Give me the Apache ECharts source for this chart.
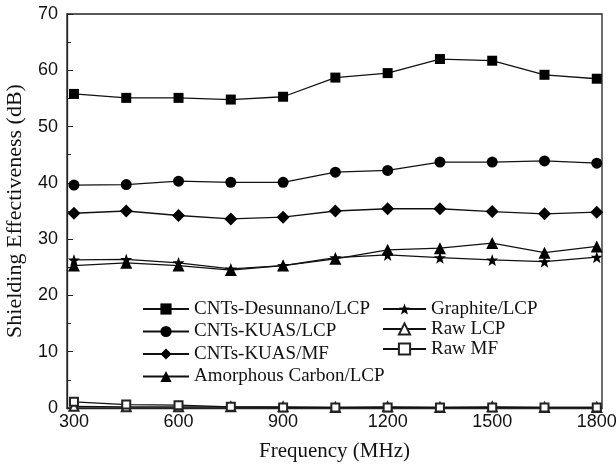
<!DOCTYPE html>
<html lang="en">
<head>
  <meta charset="UTF-8">
  <title>Shielding Effectiveness</title>
  <style>
    html, body { margin: 0; padding: 0; background: #fff; }
  </style>
</head>
<body>
  <div id="main" style="width: 616px; height: 464px"></div>
  <script src="https://cdn.jsdelivr.net/npm/echarts@6/dist/echarts.min.js"></script>
  <script>
    // frequencies (MHz)
    const freq = [300, 450, 600, 750, 900, 1050, 1200, 1350, 1500, 1650, 1800];
    const xTicks = [300, 600, 900, 1200, 1500, 1800];

    const desunnanoLCP = [55.8, 55.1, 55.1, 54.8, 55.3, 58.7, 59.5, 62.0, 61.7, 59.2, 58.5];
    const kuasLCP = [39.6, 39.7, 40.3, 40.1, 40.1, 41.9, 42.2, 43.7, 43.7, 43.9, 43.5];
    const kuasMF = [34.6, 35.0, 34.2, 33.6, 33.9, 35.0, 35.4, 35.4, 34.9, 34.5, 34.8];
    const amorphousLCP = [25.3, 25.8, 25.3, 24.5, 25.3, 26.5, 28.1, 28.4, 29.3, 27.6, 28.7];
    const graphiteLCP = [26.3, 26.4, 25.8, 24.7, 25.3, 26.7, 27.2, 26.7, 26.3, 26.0, 26.8];
    const rawLCP = [0.3, 0.2, 0.2, 0.2, 0.2, 0.1, 0.2, 0.1, 0.2, 0.1, 0.1];
    const rawMF = [1.1, 0.6, 0.5, 0.2, 0.1, 0.1, 0.1, 0.1, 0.1, 0.1, 0.1];

    const starPath = 'path://M0,-10L2.35,-3.24L9.51,-3.09L3.8,1.24L5.88,8.09L0,4.2L-5.88,8.09L-3.8,1.24L-9.51,-3.09L-2.35,-3.24Z';

    function pairs(vals) {
      return freq.map((f, i) => [f, vals[i]]);
    }

    function mkSeries(name, vals, symbol, size, filled) {
      return {
        name: name,
        type: 'line',
        data: pairs(vals),
        symbol: symbol,
        symbolSize: size,
        showAllSymbol: true,
        lineStyle: { color: '#111', width: 1.3 },
        itemStyle: filled
          ? { color: '#000', borderColor: '#000', borderWidth: 0 }
          : { color: '#222', borderColor: '#222', borderWidth: 1 },
        emphasis: { disabled: true },
        z: 3
      };
    }

    const serif = 'Liberation Serif';
    const sans = 'Liberation Sans';

    let myChart = echarts.init(document.getElementById('main'));
    let option = {
      animation: false,
      backgroundColor: '#fff',
      grid: {
        left: 67, right: 14, top: 14, bottom: 56,
        outerBoundsMode: 'none',
        show: true, borderColor: '#222', borderWidth: 1.3
      },
      legend: [
        {
          data: ['CNTs-Desunnano/LCP', 'CNTs-KUAS/LCP', 'CNTs-KUAS/MF', 'Amorphous Carbon/LCP'],
          orient: 'vertical',
          left: 137, top: 294,
          itemWidth: 46, itemHeight: 14, itemGap: 2.5,
          textStyle: { fontFamily: serif, fontSize: 19, color: '#111', lineHeight: 20 }
        },
        {
          data: ['Graphite/LCP', 'Raw LCP', 'Raw MF'],
          orient: 'vertical',
          left: 377, top: 294,
          itemWidth: 43, itemHeight: 14, itemGap: 0,
          textStyle: { fontFamily: serif, fontSize: 19, color: '#111', lineHeight: 20 }
        }
      ],
      xAxis: {
        type: 'value',
        min: 280, max: 1815,
        name: 'Frequency (MHz)',
        nameLocation: 'middle',
        nameGap: 33,
        nameTextStyle: { fontFamily: serif, fontSize: 21, color: '#111' },
        axisLine: { lineStyle: { color: '#222', width: 1.3 } },
        axisTick: { inside: true, length: 5, customValues: xTicks, lineStyle: { color: '#222' } },
        axisLabel: {
          customValues: xTicks, formatter: (v) => String(v),
          fontFamily: sans, fontSize: 18, color: '#111', margin: 5
        },
        splitLine: { show: false }
      },
      yAxis: {
        type: 'value',
        min: 0, max: 70, interval: 10,
        name: 'Shielding Effectiveness (dB)',
        nameLocation: 'middle',
        nameGap: 41,
        nameTextStyle: { fontFamily: serif, fontSize: 22, color: '#111' },
        axisLine: { show: true, lineStyle: { color: '#222', width: 1.3 } },
        axisTick: { inside: true, length: 6, lineStyle: { color: '#222' } },
        minorTick: { show: true, splitNumber: 2, length: 4, lineStyle: { color: '#222' } },
        axisLabel: { fontFamily: sans, fontSize: 18, color: '#111', margin: 9 },
        splitLine: { show: false }
      },
      series: [
        mkSeries('CNTs-Desunnano/LCP', desunnanoLCP, 'rect', 10, true),
        mkSeries('CNTs-KUAS/LCP', kuasLCP, 'circle', 11, true),
        mkSeries('CNTs-KUAS/MF', kuasMF, 'diamond', 13, true),
        mkSeries('Amorphous Carbon/LCP', amorphousLCP, 'triangle', 12, true),
        mkSeries('Graphite/LCP', graphiteLCP, starPath, 12, true),
        mkSeries('Raw LCP', rawLCP, 'emptyTriangle', 9, false),
        mkSeries('Raw MF', rawMF, 'emptyRect', 8, false)
      ]
    };
    myChart.setOption(option);
  </script>
</body>
</html>
